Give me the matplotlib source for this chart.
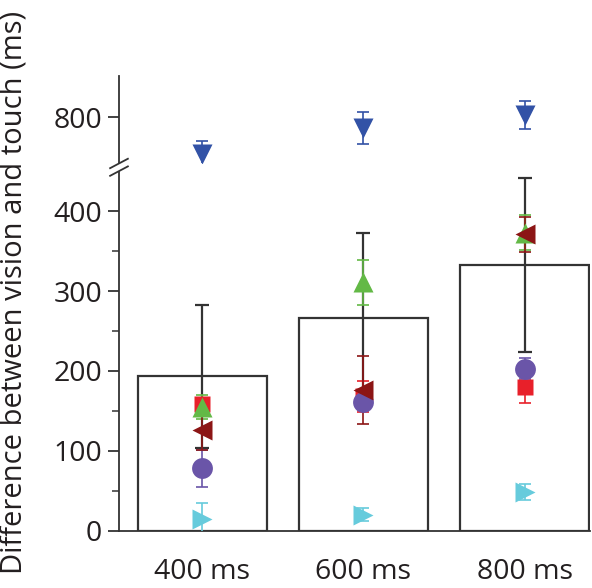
import numpy as np
import matplotlib.pyplot as plt
from matplotlib.lines import Line2D

plt.rcParams['font.family'] = ['Open Sans', 'DejaVu Sans']

# data
conditions = ['400 ms', '600 ms', '800 ms']
mean_diff = [193, 266, 333]
mean_err = [90, 107, 109]

red_sq = [159, 168, 180]
red_err = [6, 19, 20]
purple_circ = [78, 161, 203]
purple_err = [23, 10, 13]
green_up = [155, 311, 373]
green_err = [15, 28, 22]
darkred_left = [126, 176, 371]
darkred_err = [25, 43, 22]
cyan_right = [15, 20, 48]
cyan_err = [20, 8, 10]
blue_down = [754, 787, 803]
blue_err = [17, 20, 18]

series = [
    (red_sq, red_err, 's', '#e8202a', 12),
    (purple_circ, purple_err, 'o', '#6a55a8', 15),
    (green_up, green_err, '^', '#63b946', 15),
    (darkred_left, darkred_err, '<', '#8c1515', 15),
    (cyan_right, cyan_err, '>', '#66cbdc', 15),
    (blue_down, blue_err, 'v', '#3252a6', 15),
]

txt = '#231f20'
x = np.arange(len(conditions))

fig = plt.figure(figsize=(5.92, 5.88), dpi=100)
ax = fig.add_axes([0.201, 0.0975, 0.7956, 0.61])     # lower part
ax2 = fig.add_axes([0.201, 0.7228, 0.7956, 0.148])   # upper part (break)

for a in (ax, ax2):
    a.bar(x, mean_diff, width=0.8, color='white', edgecolor='#333333', linewidth=1.6, zorder=1)
    a.errorbar(x, mean_diff, yerr=mean_err, fmt='none', ecolor='#333333',
               elinewidth=1.6, capsize=5, capthick=1.6, zorder=2)
    for vals, err, m, c, ms in series:
        a.errorbar(x, vals, yerr=err, fmt=m, color=c, ecolor=c, ms=ms,
                   mec='none', elinewidth=1.2, capsize=4, capthick=1.2, zorder=3)
    a.set_xlim(-0.515, 2.405)
    for s in ['top', 'right']:
        a.spines[s].set_visible(False)
    a.spines['left'].set_linewidth(1.3)
    a.spines['left'].set_color('#333333')
    a.tick_params(axis='y', direction='out', length=8, width=1.3, colors='#333333',
                  labelcolor=txt, labelsize=20.5, pad=4)
    a.tick_params(axis='y', which='minor', direction='out', length=5, width=1.1, colors='#333333')

ax.set_ylim(0, 449)
ax.set_yticks([0, 100, 200, 300, 400])
ax.set_yticks(np.arange(50, 449, 100), minor=True)
ax.spines['bottom'].set_linewidth(1.3)
ax.spines['bottom'].set_color('#333333')
ax.set_xticks(x)
ax.set_xticklabels(conditions)
ax.tick_params(axis='x', length=0, labelsize=20.5, labelcolor=txt, pad=20)

ax2.set_ylim(743, 852)
ax2.set_yticks([800])
ax2.spines['bottom'].set_visible(False)
ax2.set_xticks([])

# break marks on the y axis
for yy in (0.722, 0.709):
    fig.add_artist(Line2D([0.186, 0.216], [yy - 0.008, yy + 0.008], color='#333333',
                          lw=1.3, transform=fig.transFigure))

fig.text(0.024, 0.503, 'Difference between vision and touch (ms)', rotation=90,
         ha='center', va='center', fontsize=21, color=txt)

fig.savefig('out.png', dpi=100)
